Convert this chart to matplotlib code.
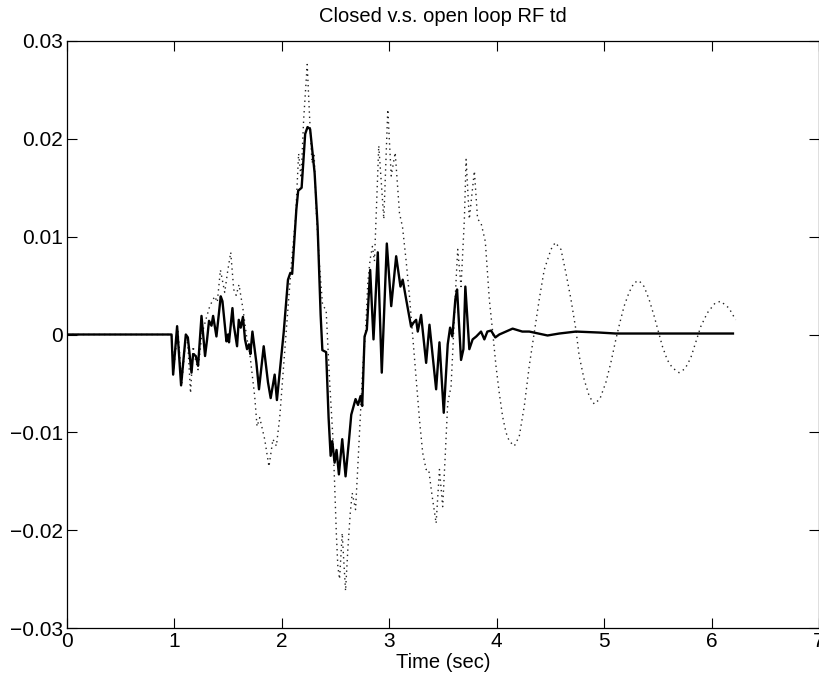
import matplotlib
matplotlib.use("Agg")
import matplotlib.pyplot as plt

plt.rcParams['font.family'] = ['Liberation Sans', 'DejaVu Sans']

# Closed loop response (solid)
t_closed = [0.0, 0.973, 0.988, 1.025, 1.062, 1.106, 1.125, 1.159, 1.174, 1.199, 1.220,
            1.252, 1.285, 1.304, 1.322, 1.345, 1.360, 1.391, 1.431, 1.447, 1.484, 1.499,
            1.508, 1.540, 1.552, 1.583, 1.599, 1.617, 1.638, 1.657, 1.676, 1.694, 1.707,
            1.726, 1.763, 1.787, 1.831, 1.871, 1.896, 1.933, 1.954, 1.986, 2.017, 2.057,
            2.079, 2.096, 2.135, 2.152, 2.184, 2.217, 2.239, 2.263, 2.305, 2.333, 2.361,
            2.377, 2.412, 2.435, 2.454, 2.469, 2.491, 2.509, 2.531, 2.562, 2.593, 2.624,
            2.646, 2.686, 2.709, 2.732, 2.748, 2.770, 2.791, 2.822, 2.853, 2.893, 2.930,
            2.977, 3.018, 3.064, 3.104, 3.125, 3.157, 3.203, 3.225, 3.250, 3.265, 3.296,
            3.343, 3.374, 3.404, 3.436, 3.467, 3.507, 3.544, 3.566, 3.587, 3.615, 3.631,
            3.668, 3.690, 3.708, 3.745, 3.776, 3.810, 3.854, 3.885, 3.913, 3.947, 3.987,
            4.024, 4.148, 4.238, 4.303, 4.473, 4.582, 4.737, 4.954, 5.109, 6.199]
y_closed = [0.0, 0.0, -0.0041, 0.00085, -0.0052, 0.0, -0.0003, -0.0039, -0.0020, -0.0022, -0.0032,
            0.0019, -0.0022, -0.0005, 0.0014, 0.0009, 0.0019, -0.0002, 0.0039, 0.0034, -0.0007, 0.0,
            -0.0008, 0.0027, 0.0010, -0.0012, 0.0015, 0.0007, 0.0018, -0.0005, -0.0015, -0.0010, -0.0020,
            0.0003, -0.0029, -0.0056, -0.0012, -0.0049, -0.0065, -0.0041, -0.0067, -0.0032, 0.0002, 0.0056,
            0.0063, 0.0062, 0.0128, 0.0147, 0.0150, 0.0205, 0.0212, 0.0210, 0.0165, 0.0110, 0.0020,
            -0.0016, -0.0018, -0.0085, -0.0124, -0.0109, -0.0131, -0.0118, -0.0143, -0.0107, -0.0145, -0.0109,
            -0.0082, -0.0066, -0.0072, -0.0063, -0.0073, -0.0002, 0.0005, 0.0066, -0.0005, 0.0084, -0.0039,
            0.0093, 0.0029, 0.0080, 0.0049, 0.0056, 0.0036, 0.0008, 0.0012, 0.0015, 0.0003, 0.0020,
            -0.0029, 0.0010, -0.0022, -0.0056, -0.0008, -0.0080, -0.0010, 0.0007, -0.0002, 0.0036, 0.0046,
            -0.0026, -0.0015, 0.0049, -0.0015, -0.0005, -0.0002, 0.0003, -0.0005, 0.0003, 0.0004, -0.0003,
            0.0, 0.0006, 0.0003, 0.0003, -0.0001, 0.0001, 0.0003, 0.0002, 0.0001, 0.0001]

# Open loop response (dotted)
t_open = [0.0, 0.973, 0.994, 1.032, 1.069, 1.106, 1.125, 1.150, 1.174, 1.194, 1.220,
          1.255, 1.292, 1.329, 1.375, 1.399, 1.428, 1.468, 1.496, 1.524, 1.552, 1.575,
          1.601, 1.638, 1.673, 1.701, 1.747, 1.769, 1.794, 1.840, 1.880, 1.917, 1.949,
          1.980, 2.012, 2.059, 2.091, 2.128, 2.156, 2.179, 2.203, 2.236, 2.259, 2.281,
          2.300, 2.323, 2.351, 2.379, 2.412, 2.446, 2.475, 2.491, 2.507, 2.521, 2.537,
          2.562, 2.574, 2.593, 2.614, 2.637, 2.655, 2.686, 2.707, 2.730, 2.754, 2.779,
          2.800, 2.822, 2.843, 2.862, 2.902, 2.949, 2.986, 3.018, 3.055, 3.095, 3.123,
          3.157, 3.188, 3.218, 3.250, 3.281, 3.311, 3.343, 3.367, 3.390, 3.404, 3.436,
          3.467, 3.497, 3.522, 3.544, 3.575, 3.590, 3.622, 3.637, 3.668, 3.699, 3.715,
          3.745, 3.792, 3.822, 3.854, 3.894, 3.931, 3.962, 3.993, 4.024, 4.055, 4.086,
          4.117, 4.164, 4.210, 4.257, 4.303, 4.349, 4.396, 4.442, 4.505, 4.545, 4.598,
          4.644, 4.691, 4.737, 4.768, 4.814, 4.861, 4.907, 4.960, 5.016, 5.062, 5.109,
          5.146, 5.186, 5.232, 5.279, 5.325, 5.372, 5.418, 5.465, 5.505, 5.542, 5.588,
          5.635, 5.697, 5.753, 5.806, 5.852, 5.899, 5.960, 6.032, 6.085, 6.162, 6.224]
y_open = [0.0, 0.0, -0.0035, 0.0005, -0.0050, -0.0002, -0.0010, -0.0060, -0.0012, -0.0025, -0.0036,
          0.0, 0.0015, 0.0029, 0.0039, 0.0033, 0.0066, 0.0043, 0.0065, 0.0084, 0.0046, 0.0040,
          0.0051, 0.0026, -0.0003, -0.0019, -0.0063, -0.0094, -0.0085, -0.0107, -0.0135, -0.0107, -0.0114,
          -0.0085, -0.0038, 0.0030, 0.0075, 0.0120, 0.0185, 0.0160, 0.0220, 0.0276, 0.0220, 0.0175,
          0.0185, 0.0120, 0.0070, 0.0030, 0.0025, -0.0051, -0.0105, -0.0152, -0.0203, -0.0237, -0.0250,
          -0.0203, -0.0227, -0.0262, -0.0220, -0.0182, -0.0162, -0.0179, -0.0135, -0.0084, -0.0032, 0.0002,
          0.0053, 0.0077, 0.0090, 0.0075, 0.0193, 0.0118, 0.0230, 0.0162, 0.0186, 0.0124, 0.0110,
          0.0075, 0.0039, -0.0002, -0.0046, -0.0087, -0.0121, -0.0138, -0.0138, -0.0158, -0.0169, -0.0193,
          -0.0138, -0.0176, -0.0121, -0.0070, -0.0053, -0.0019, 0.0056, 0.0087, 0.0049, 0.0118, 0.0179,
          0.0118, 0.0167, 0.0118, 0.0114, 0.0095, 0.0036, 0.0003, -0.0032, -0.0060, -0.0084, -0.0100,
          -0.0109, -0.0114, -0.0104, -0.0073, -0.0032, 0.0002, 0.0036, 0.0066, 0.0087, 0.0094, 0.0087,
          0.0063, 0.0036, 0.0005, -0.0022, -0.0046, -0.0063, -0.0071, -0.0066, -0.0049, -0.0029, -0.0005,
          0.0012, 0.0029, 0.0043, 0.0053, 0.0055, 0.0049, 0.0036, 0.0019, 0.0003, -0.0012, -0.0026,
          -0.0034, -0.0039, -0.0035, -0.0024, -0.0008, 0.0008, 0.0022, 0.0032, 0.0034, 0.0027, 0.0015]

x_ticks = [0, 1, 2, 3, 4, 5, 6, 7]
x_tick_labels = ['0', '1', '2', '3', '4', '5', '6', '7']
y_ticks = [-0.03, -0.02, -0.01, 0, 0.01, 0.02, 0.03]
y_tick_labels = ['\u22120.03', '\u22120.02', '\u22120.01', '0', '0.01', '0.02', '0.03']

title_text = 'Closed v.s. open loop RF td'
xlabel_text = 'Time (sec)'

fig = plt.figure(figsize=(8.2, 6.77), dpi=100)
ax = fig.add_axes([67/820, 1 - 628/677, 752/820, (628 - 41)/677])

ax.plot(t_open, y_open, color='#222222', linestyle=(0, (1, 2.8)), linewidth=1.0)
ax.plot(t_closed, y_closed, color='black', linestyle='-', linewidth=1.7)

ax.set_xlim(0, 7)
ax.set_ylim(-0.03, 0.03)
ax.set_xticks(x_ticks)
ax.set_xticklabels(x_tick_labels)
ax.set_yticks(y_ticks)
ax.set_yticklabels(y_tick_labels)
ax.tick_params(direction='in', length=7, width=0.8, top=True, right=True,
               labelsize=15, pad=3)
for s in ax.spines.values():
    s.set_linewidth(0.9)

ax.set_title(title_text, fontsize=14.5, pad=14)
ax.set_xlabel(xlabel_text, fontsize=14.5, labelpad=1)

fig.savefig('out.png', dpi=100)
